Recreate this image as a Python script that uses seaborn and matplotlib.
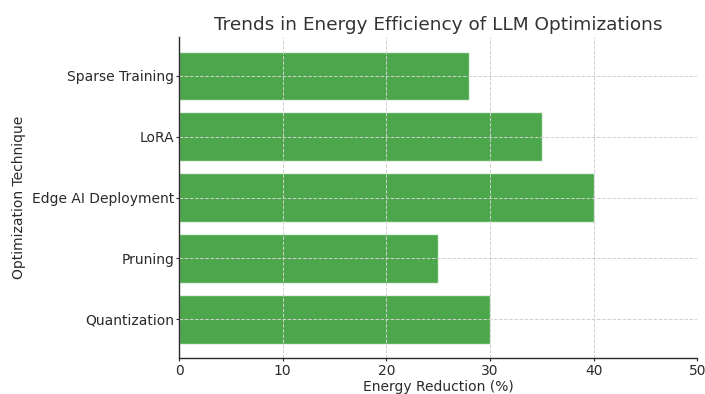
import matplotlib
matplotlib.use("Agg")
import matplotlib.pyplot as plt
import seaborn as sns
import pandas as pd

techniques = ["Quantization", "Pruning", "Edge AI Deployment", "LoRA", "Sparse Training"]
energy_reduction = [30, 25, 40, 35, 28]

sns.set_style("white")
plt.rcParams["font.family"] = ["DejaVu Sans"]
ink = "#2a2a2a"
plt.rcParams["text.color"] = ink
plt.rcParams["axes.labelcolor"] = ink
plt.rcParams["xtick.color"] = ink
plt.rcParams["ytick.color"] = ink

df = pd.DataFrame({"technique": techniques, "reduction": energy_reduction})
# top-to-bottom order for the horizontal bars
order = techniques[::-1]

fig = plt.figure(figsize=(7.05, 3.94), dpi=100)
ax = fig.add_axes([0.254, 0.091, 0.735, 0.815])
sns.barplot(data=df, y="technique", x="reduction", order=order, orient="h",
            color="green", alpha=0.7, width=0.8, saturation=1, ax=ax)

ax.set_xlim(0, 50)
ax.set_ylim(len(order) - 1 + 0.64, -0.64)
ax.set_xticks([0, 10, 20, 30, 40, 50])
ax.grid(True, linestyle="--", color="#d0d0d0", linewidth=0.7)
ax.set_axisbelow(False)
ax.set_title("Trends in Energy Efficiency of LLM Optimizations", fontsize=13.3,
             color="#333333", pad=5)
ax.set_xlabel("Energy Reduction (%)", fontsize=10, labelpad=2)
ax.set_ylabel("Optimization Technique", fontsize=10, labelpad=4)
ax.tick_params(axis="both", labelsize=10, length=2.5, width=0.8, pad=1.5,
               left=True, bottom=True)
ax.tick_params(axis="y", pad=1.0)
for side in ["top", "right"]:
    ax.spines[side].set_visible(False)
for side in ["left", "bottom"]:
    ax.spines[side].set_color(ink)
    ax.spines[side].set_linewidth(1.0)
    ax.spines[side].set_zorder(5)

fig.savefig("out.png", dpi=100)
